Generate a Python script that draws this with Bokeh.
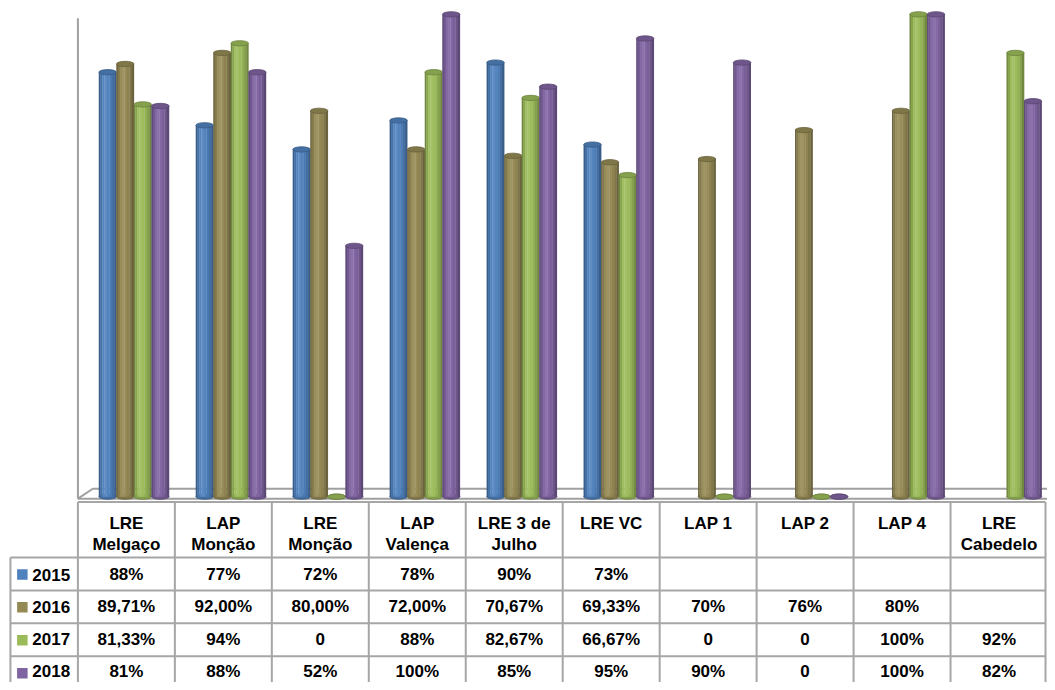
from bokeh.plotting import figure
from bokeh.models import Range1d, ColumnDataSource
from bokeh.embed import file_html
from bokeh.resources import INLINE
from bokeh.core.properties import value

# ---------------- data ----------------
categories = ["LRE\nMelgaço", "LAP\nMonção", "LRE\nMonção", "LAP\nValença",
              "LRE 3 de\nJulho", "LRE VC", "LAP 1", "LAP 2", "LAP 4", "LRE\nCabedelo"]
years = ["2015", "2016", "2017", "2018"]

v2015 = [88, 77, 72, 78, 90, 73, None, None, None, None]
v2016 = [89.71, 92.00, 80.00, 72.00, 70.67, 69.33, 70, 76, 80, None]
v2017 = [81.33, 94, 0, 88, 82.67, 66.67, 0, 0, 100, 92]
v2018 = [81, 88, 52, 100, 85, 95, 90, 0, 100, 82]

t2015 = ["88%", "77%", "72%", "78%", "90%", "73%", "", "", "", ""]
t2016 = ["89,71%", "92,00%", "80,00%", "72,00%", "70,67%", "69,33%", "70%", "76%", "80%", ""]
t2017 = ["81,33%", "94%", "0", "88%", "82,67%", "66,67%", "0", "0", "100%", "92%"]
t2018 = ["81%", "88%", "52%", "100%", "85%", "95%", "90%", "0", "100%", "82%"]

series_values = [v2015, v2016, v2017, v2018]
series_texts = [t2015, t2016, t2017, t2018]
colors = ["#4F81BD", "#958A55", "#9BBB59", "#8064A2"]

# ---------------- helpers ----------------
def shade(hexcol, f):
    r, g, b = int(hexcol[1:3], 16), int(hexcol[3:5], 16), int(hexcol[5:7], 16)
    if f < 1:
        r, g, b = r * f, g * f, b * f
    else:
        t = f - 1
        r, g, b = r + (255 - r) * t, g + (255 - g) * t, b + (255 - b) * t
    return "#%02x%02x%02x" % (int(round(r)), int(round(g)), int(round(b)))

PX_X = 97.7      # reference px per category
PX_Y = 4.88      # reference px per percent
X0 = -78 / PX_X
X1 = (1055 - 78) / PX_X
Y1 = 502 / PX_Y
Y0 = -(690 - 502) / PX_Y

p = figure(width=1047, height=682, x_range=Range1d(X0, X1), y_range=Range1d(Y0, Y1),
           output_backend="svg", toolbar_location=None, min_border=0,
           outline_line_color=None, background_fill_color="white", border_fill_color="white")
p.axis.visible = False
p.grid.visible = False

# ---------------- 3D floor and wall ----------------
floor_top = 8 / PX_Y
floor_bot = -2 / PX_Y
floor_dx = 15 / PX_X
p.multi_line(xs=[[0, floor_dx, 10], [0, 10], [0, 0]],
             ys=[[floor_bot, floor_top, floor_top], [floor_bot, floor_bot], [floor_bot, (502 - 18) / PX_Y]],
             line_color="#a0a0a0", line_width=2)

# ---------------- cylinders ----------------
W = 0.181
offsets = [0.307, 0.488, 0.669, 0.850]
profile = [(0.00, 0.08, 0.72), (0.08, 0.20, 0.88), (0.20, 0.32, 1.03), (0.32, 0.46, 1.09),
           (0.46, 0.60, 1.02), (0.60, 0.74, 0.95), (0.74, 0.88, 0.86), (0.88, 1.00, 0.72)]

for s, vals in enumerate(series_values):
    xs, tops = [], []
    for i, v in enumerate(vals):
        if v is None:
            continue
        xs.append(i + offsets[s])
        tops.append(v)
    src = ColumnDataSource(dict(x=xs, top=tops, zero=[0] * len(xs)))
    base = colors[s]
    p.ellipse(x="x", y="zero", width=W, height=1.1, source=src,
              fill_color=shade(base, 0.85), line_color=shade(base, 0.7), line_width=0.8)
    for a, b, f in profile:
        cx = (a + b) / 2 - 0.5
        ww = (b - a) * W + 0.003
        src_s = ColumnDataSource(dict(x=[x + cx * W for x in xs], top=tops))
        p.vbar(x="x", top="top", bottom=0, width=ww, source=src_s,
               fill_color=shade(base, f), line_color=None)
    p.ellipse(x="x", y="top", width=W, height=1.1, source=src,
              fill_color=shade(base, 0.86), line_color=shade(base, 0.7), line_width=0.8)

# ---------------- data table ----------------
LABEL_X0 = (10 - 78) / PX_X
HEADER_TOP = -5.5 / PX_Y
HEADER_BOT = -61.5 / PX_Y
ROW_H = 33.3 / PX_Y
row_tops = [HEADER_BOT - k * ROW_H for k in range(len(years))]
TABLE_R = (1053 - 78) / PX_X
TEXT_SHIFT = 6.0   # reference px, compensates the renderer's baseline placement

gx0, gy0, gx1, gy1 = [], [], [], []
gx0.append(0); gy0.append(HEADER_TOP); gx1.append(TABLE_R); gy1.append(HEADER_TOP)
for k, rt in enumerate(row_tops):
    gx0.append(LABEL_X0); gy0.append(rt); gx1.append(TABLE_R); gy1.append(rt)
col_lines = list(range(len(categories))) + [TABLE_R]
for c in col_lines:
    gx0.append(c); gy0.append(HEADER_TOP); gx1.append(c); gy1.append(Y0 - 1)
gx0.append(LABEL_X0); gy0.append(row_tops[0]); gx1.append(LABEL_X0); gy1.append(Y0 - 1)
p.segment(x0=gx0, y0=gy0, x1=gx1, y1=gy1, line_color="#a6a6a6", line_width=2)

font = value("Liberation Sans")
fsize = value("17px")

l1x, l1t, l2x, l2t = [], [], [], []
for i, c in enumerate(categories):
    parts = c.split("\n")
    l1x.append(i + 0.5); l1t.append(parts[0])
    if len(parts) > 1:
        l2x.append(i + 0.5); l2t.append(parts[1])
p.text(x=l1x, y=[-(535 - 502 - TEXT_SHIFT) / PX_Y] * len(l1x), text=l1t, text_font=font,
       text_font_size=fsize, text_font_style="bold", text_align="center",
       text_baseline="alphabetic", text_color="black")
p.text(x=l2x, y=[-(556 - 502 - TEXT_SHIFT) / PX_Y] * len(l2x), text=l2t, text_font=font,
       text_font_size=fsize, text_font_style="bold", text_align="center",
       text_baseline="alphabetic", text_color="black")

row_base_off = [23.4, 22.8, 22.2, 21.4]
row_base_y = [rt - (row_base_off[k] - TEXT_SHIFT) / PX_Y for k, rt in enumerate(row_tops)]
for k, texts in enumerate(series_texts):
    p.text(x=[i + 0.5 for i in range(len(categories))], y=[row_base_y[k]] * len(categories), text=texts,
           text_font=font, text_font_size=fsize, text_font_style="bold",
           text_align="center", text_baseline="alphabetic", text_color="black")

key_y = [rt - ROW_H / 2 - 0.1 for rt in row_tops]
p.rect(x=[-0.573] * len(years), y=key_y, width=10.5, height=10.5,
       width_units="screen", height_units="screen", fill_color=colors, line_color=None)
p.text(x=[-0.47] * len(years), y=row_base_y,
       text=years, text_font=font, text_font_size=fsize, text_font_style="bold",
       text_align="left", text_baseline="alphabetic", text_color="black")

open("out.html", "w").write(file_html(p, INLINE))
